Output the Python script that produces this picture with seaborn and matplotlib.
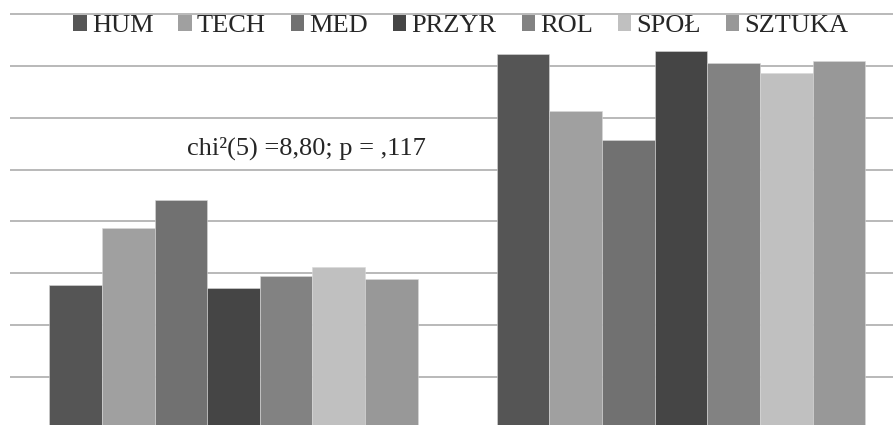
import pandas as pd
import numpy as np
import matplotlib.pyplot as plt
import seaborn as sns
from matplotlib.patches import Patch

# kierunki studiów i odsetki w dwóch grupach
kierunki = ['HUM', 'TECH', 'MED', 'PRZYR', 'ROL', 'SPOŁ', 'SZTUKA']
grupy = ['Nie', 'Tak']
nie = [27.8, 38.7, 44.2, 27.1, 29.4, 31.3, 29.0]
tak = [72.2, 61.3, 55.8, 72.9, 70.6, 68.7, 71.0]
kolory = ['#555555', '#a0a0a0', '#717171', '#454545', '#828282', '#c0c0c0', '#989898']

df = pd.DataFrame({
    'grupa': [grupy[0]] * len(kierunki) + [grupy[1]] * len(kierunki),
    'kierunek': kierunki * 2,
    'procent': nie + tak,
})

sns.set_style('white')
plt.rcParams['font.family'] = ['Liberation Serif', 'DejaVu Serif']
serif = {'family': ['Liberation Serif', 'DejaVu Serif'], 'size': 19}

fig = plt.figure(figsize=(8.93, 4.25), dpi=100)
# oś wychodzi poza kadr (obrazek jest przycięty u dołu i z prawej)
ax = fig.add_axes([9.75 / 893, -4 / 425, 895 / 893, 417.6 / 425])

sns.barplot(data=df, x='grupa', y='procent', hue='kierunek', hue_order=kierunki,
            palette=kolory, width=0.823, saturation=1, legend=False, ax=ax,
            edgecolor='#d8d8d8', linewidth=0.4, errorbar=None)

ax.set_xlim(-0.5, 1.5)
ax.set_ylim(0, 80.5)
ax.set_yticks(np.arange(0, 81, 10))
ax.yaxis.grid(True, color='#a6a6a6', linewidth=1.1)
ax.set_axisbelow(True)
ax.tick_params(length=0, labelleft=False, labelbottom=False)
ax.set_xlabel('')
ax.set_ylabel('')
sns.despine(ax=ax, left=True, bottom=True)

ax.text(0.162, 52.9, 'chi²(5) =8,80; p = ,117', ha='center', va='baseline',
        fontdict=serif)

uchwyty = [Patch(facecolor=c, edgecolor='none', label=k) for k, c in zip(kierunki, kolory)]
fig.legend(handles=uchwyty, loc='center', bbox_to_anchor=(461 / 893, 1 - 26 / 425),
           ncol=7, frameon=False, prop=serif, handlelength=0.5, handleheight=0.55,
           handletextpad=0.2, columnspacing=0.95, borderpad=0, borderaxespad=0)

fig.savefig('out.png', dpi=100)
